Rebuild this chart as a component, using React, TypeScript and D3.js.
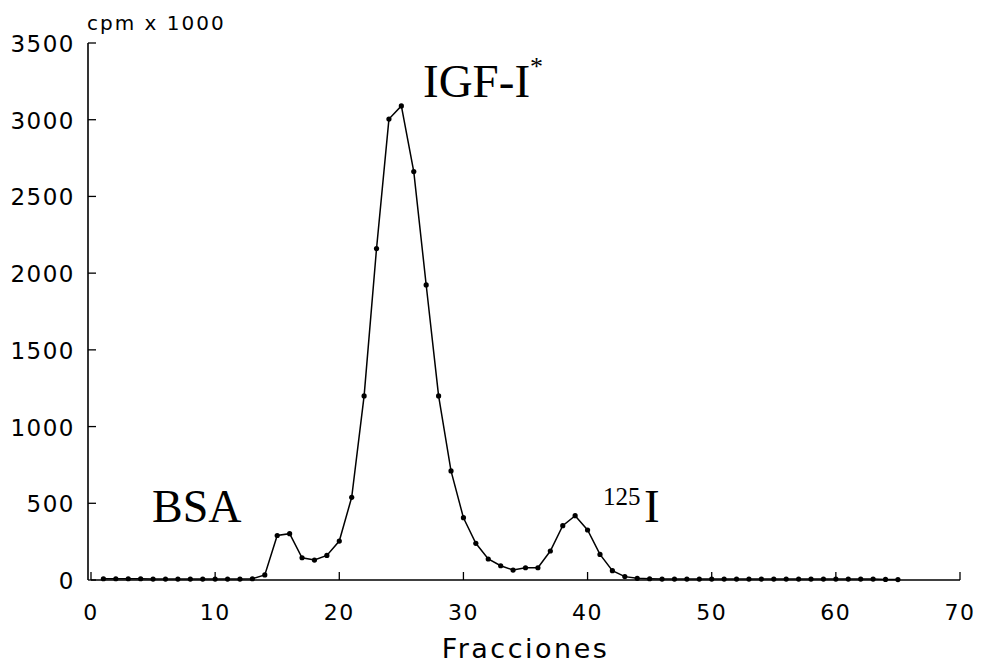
import React from "react";
import * as d3 from "d3";

const fractions = [
  1, 2, 3, 4, 5, 6, 7, 8, 9, 10, 11, 12, 13, 14, 15, 16, 17, 18, 19, 20,
  21, 22, 23, 24, 25, 26, 27, 28, 29, 30, 31, 32, 33, 34, 35, 36, 37, 38, 39, 40,
  41, 42, 43, 44, 45, 46, 47, 48, 49, 50, 51, 52, 53, 54, 55, 56, 57, 58, 59, 60,
  61, 62, 63, 64, 65,
];
const cpm = [
  8, 8, 8, 8, 6, 6, 6, 6, 6, 6, 6, 6, 8, 33, 290, 302, 145, 130, 160, 254,
  539, 1200, 2160, 3004, 3090, 2662, 1923, 1200, 711, 406, 239, 137, 93, 65, 80, 80, 189, 354, 419, 326,
  167, 61, 22, 11, 8, 6, 6, 6, 6, 6, 6, 6, 6, 6, 6, 6, 6, 6, 6, 6,
  6, 6, 6, 4, 3,
];
const xTicks = [0, 10, 20, 30, 40, 50, 60, 70];
const yTicks = [0, 500, 1000, 1500, 2000, 2500, 3000, 3500];

export default function App() {
  const W = 981;
  const H = 667;
  const x = d3.scaleLinear().domain([0, 70]).range([91, 960]);
  const y = d3.scaleLinear().domain([0, 3500]).range([580, 43]);
  const axisX = 88;
  const line = d3
    .line<number>()
    .x((_, i) => x(fractions[i]))
    .y((d) => y(d));
  const sans = "'DejaVu Sans', sans-serif";
  const serif = "'Liberation Serif', 'Times New Roman', serif";
  return (
    <svg width={W} height={H} style={{ position: "absolute", left: 0, top: 0, background: "#fff" }}>
      <rect x={0} y={0} width={W} height={H} fill="#fff" />
      <line x1={axisX} x2={axisX} y1={y(3500)} y2={y(0)} stroke="#000" strokeWidth={1.6} />
      <line x1={x(0)} x2={x(70)} y1={y(0)} y2={y(0)} stroke="#000" strokeWidth={1.6} />
      {yTicks.map((t) => (
        <g key={"y" + t}>
          <line x1={axisX} x2={axisX + 8} y1={y(t)} y2={y(t)} stroke="#000" strokeWidth={1.3} />
          <text
            x={75}
            y={y(t) + 1}
            textAnchor="end"
            dominantBaseline="central"
            fontFamily={sans}
            fontSize={23}
            letterSpacing={1.5}
            fill="#000"
          >
            {t}
          </text>
        </g>
      ))}
      {xTicks.map((t) => (
        <g key={"x" + t}>
          <line x1={x(t)} x2={x(t)} y1={y(0)} y2={y(0) - 8} stroke="#000" strokeWidth={1.3} />
          <text
            x={x(t)}
            y={612}
            textAnchor="middle"
            dominantBaseline="central"
            fontFamily={sans}
            fontSize={22}
            letterSpacing={1.5}
            fill="#000"
          >
            {t}
          </text>
        </g>
      ))}
      <text x={87} y={30} fontFamily={sans} fontSize={20} letterSpacing={2} fill="#000">
        cpm x 1000
      </text>
      <text
        x={(x(0) + x(70)) / 2}
        y={658}
        textAnchor="middle"
        fontFamily={sans}
        fontSize={27}
        letterSpacing={2.5}
        fill="#000"
      >
        Fracciones
      </text>
      <path d={line(cpm) || ""} fill="none" stroke="#000" strokeWidth={1.5} />
      {cpm.map((v, i) => (
        <circle key={i} cx={x(fractions[i])} cy={y(v)} r={2.6} fill="#000" />
      ))}
      <text x={423} y={97} fontFamily={serif} fontSize={47} fill="#000">
        IGF-I
        <tspan dy={-22} fontSize={26}>*</tspan>
      </text>
      <text x={152} y={522} fontFamily={serif} fontSize={46} fill="#000">
        BSA
      </text>
      <text x={603} y={505} fontFamily={serif} fontSize={25} fill="#000">
        125
      </text>
      <text x={644} y={522} fontFamily={serif} fontSize={47} fill="#000">
        I
      </text>
    </svg>
  );
}
